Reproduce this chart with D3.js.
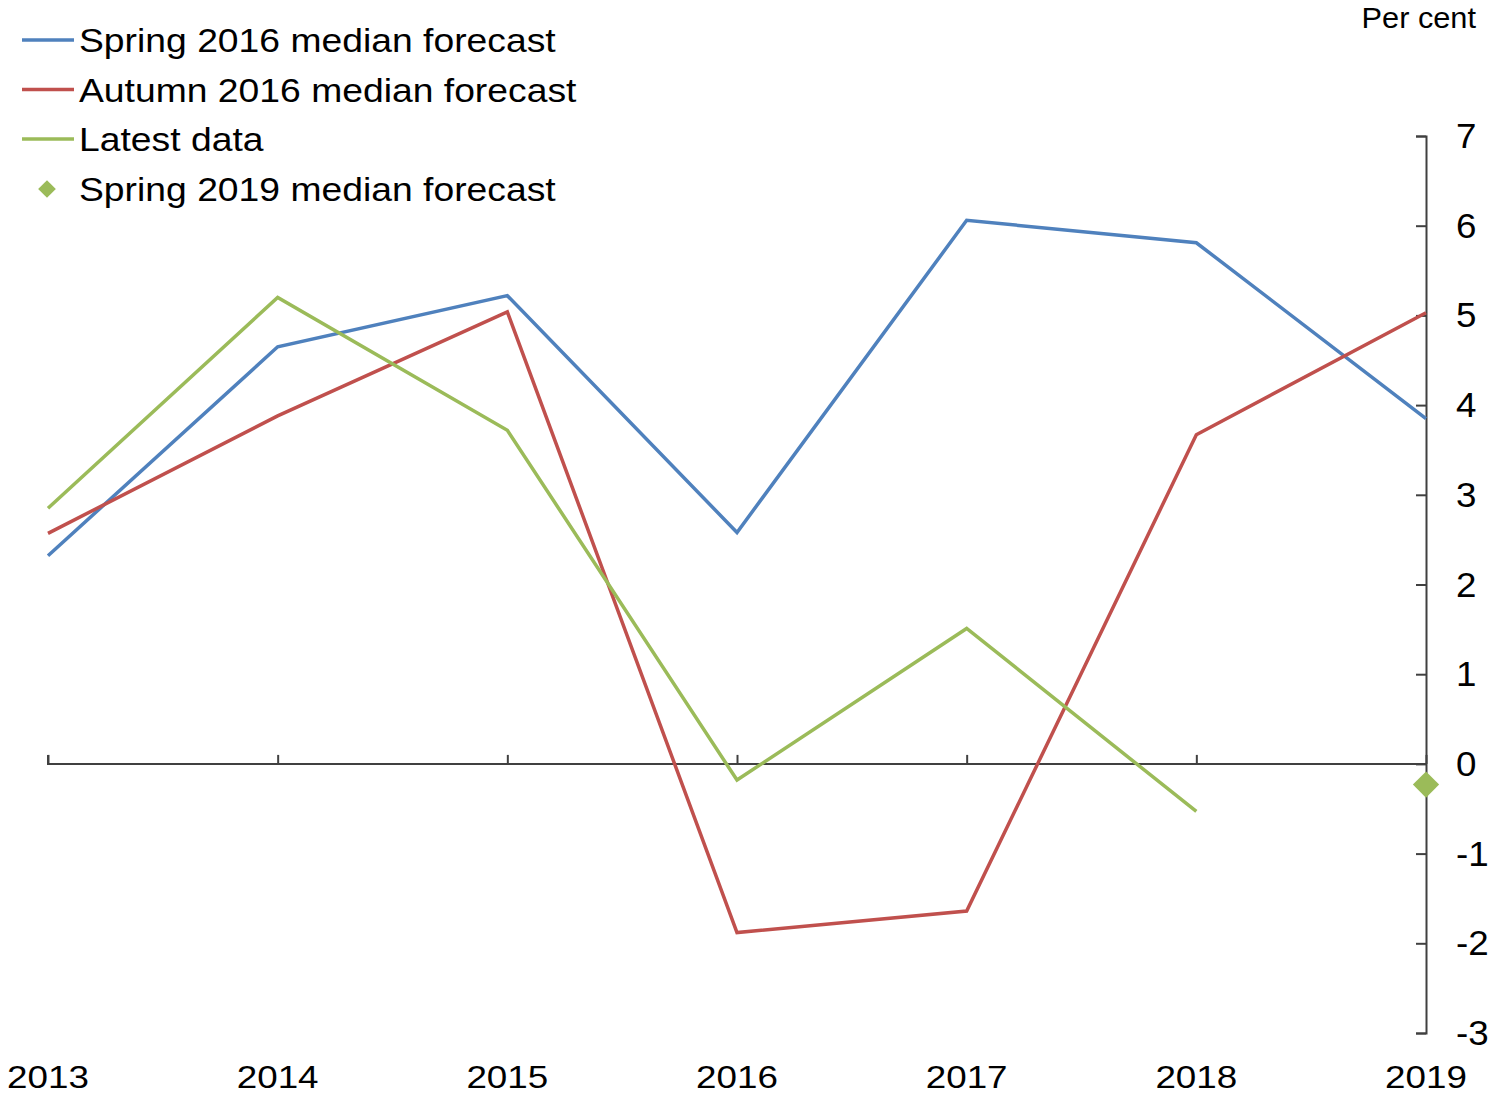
<!DOCTYPE html>
<html>
<head>
<meta charset="utf-8">
<script src="https://cdn.jsdelivr.net/npm/d3@7"></script>
<style>
    body { margin: 0; background: #fff; }
    text { font-family: "Liberation Sans", Arial, sans-serif; fill: #000; }
</style>
</head>
<body>
<script>
    // chart data
    const years = [2013, 2014, 2015, 2016, 2017, 2018, 2019];
    const spring2016 = [2.32, 4.65, 5.22, 2.58, 6.06, 5.81, 3.85];
    const autumn2016 = [2.57, 3.88, 5.04, -1.88, -1.64, 3.67, 5.03];
    const latestData = [2.85, 5.2, 3.72, -0.18, 1.51, -0.53];
    const spring2019 = [{ year: 2019, value: -0.23 }];
    const yTicks = [-3, -2, -1, 0, 1, 2, 3, 4, 5, 6, 7];

    const width = 1499, height = 1102;

    const svg = d3.select("body")
        .append("svg")
        .attr("width", width)
        .attr("height", height);

    const x = d3.scaleLinear().domain([2013, 2019]).range([48, 1426]);
    const y = d3.scaleLinear().domain([-3, 7]).range([1033, 136]);

    const axisColor = "#404040";

    // text is a bit wider in the original, so stretch it horizontally
    function label(g, px, py, sx) {
        return g.append("text")
            .attr("transform", `translate(${px},${py}) scale(${sx},1)`);
    }

    // x axis along zero, ticks pointing up
    const xAxis = svg.append("g")
        .attr("transform", `translate(0,${y(0)})`)
        .call(d3.axisTop(x).tickValues(years).tickSize(9).tickFormat(""));
    xAxis.selectAll("path,line").attr("stroke", axisColor).attr("stroke-width", 2);
    xAxis.select(".domain").attr("d", `M${x(2013)},-9V0H${x(2019)}`);

    // year labels at the bottom
    years.forEach(yr => {
        label(svg, x(yr), 1088, 1.15)
            .attr("text-anchor", "middle")
            .attr("font-size", "32px")
            .text(yr);
    });

    // right y axis, ticks pointing left
    const yAxis = svg.append("g")
        .attr("transform", `translate(${x(2019)},0)`)
        .call(d3.axisLeft(y).tickValues(yTicks).tickSize(10).tickSizeOuter(10).tickFormat(""));
    yAxis.selectAll("path,line").attr("stroke", axisColor).attr("stroke-width", 2);

    yTicks.forEach(t => {
        label(svg, 1456, y(t) + 12, 1.05)
            .attr("font-size", "35px")
            .text(t);
    });

    label(svg, 1476, 28, 1.06)
        .attr("text-anchor", "end")
        .attr("font-size", "29px")
        .text("Per cent");

    // series lines
    const line = d3.line().x(d => x(d[0])).y(d => y(d[1]));
    const series = [
        { name: "Spring 2016 median forecast", color: "#4F81BD", values: spring2016 },
        { name: "Autumn 2016 median forecast", color: "#C0504D", values: autumn2016 },
        { name: "Latest data", color: "#9BBB59", values: latestData }
    ];

    series.forEach(s => {
        svg.append("path")
            .attr("d", line(s.values.map((v, i) => [years[i], v])))
            .attr("fill", "none")
            .attr("stroke", s.color)
            .attr("stroke-width", 3.5)
            .attr("stroke-linejoin", "miter");
    });

    // diamond marker
    const diamond = d3.symbol().type(d3.symbolDiamond2).size(440);
    svg.selectAll(".marker")
        .data(spring2019)
        .enter()
        .append("path")
        .attr("d", diamond)
        .attr("transform", d => `translate(${x(d.year)},${y(d.value)})`)
        .attr("fill", "#9BBB59");

    // legend
    const legend = svg.append("g");
    series.forEach((s, i) => {
        const ly = 40 + i * 49.5;
        legend.append("line")
            .attr("x1", 22).attr("x2", 74)
            .attr("y1", ly).attr("y2", ly)
            .attr("stroke", s.color)
            .attr("stroke-width", 3.5);
        label(legend, 79, ly + 12, 1.13)
            .attr("font-size", "33px")
            .text(s.name);
    });
    legend.append("path")
        .attr("d", d3.symbol().type(d3.symbolDiamond2).size(200))
        .attr("transform", "translate(47,189)")
        .attr("fill", "#9BBB59");
    label(legend, 79, 201, 1.13)
        .attr("font-size", "33px")
        .text("Spring 2019 median forecast");
</script>
</body>
</html>
